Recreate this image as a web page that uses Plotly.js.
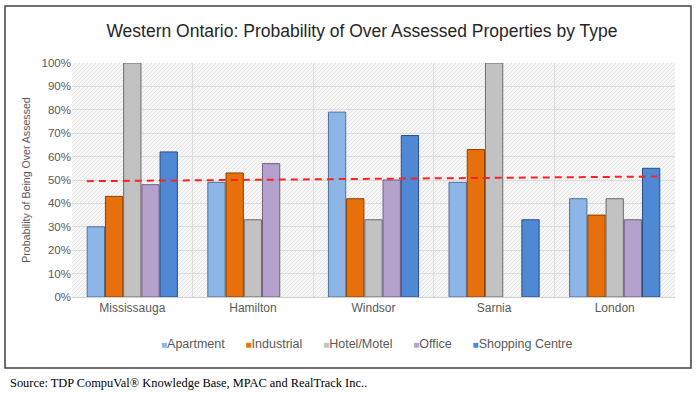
<!DOCTYPE html>
<html>
<head>
<meta charset="utf-8">
<script src="https://cdn.plot.ly/plotly-3.0.1.min.js"></script>
<style>html,body{margin:0;padding:0;background:#fff;}#chart{width:700px;height:393px;}</style>
</head>
<body>
<div id="chart"></div>
<script>
const cities = ["Mississauga", "Hamilton", "Windsor", "Sarnia", "London"];
const seriesNames = ["Apartment", "Industrial", "Hotel/Motel", "Office", "Shopping Centre"];
const apartment = [30, 49, 79, 49, 42];
const industrial = [43, 53, 42, 63, 35];
const hotelMotel = [100, 33, 33, 100, 42];
const office = [48, 57, 50, null, 33];
const shoppingCentre = [62, null, 69, 33, 55];
const trendValues = [49.5, 51.5];
const yTicks = [0, 10, 20, 30, 40, 50, 60, 70, 80, 90, 100];

const fills = ['#8DB6E8', '#E8700C', '#C2C2C2', '#B4A2CC', '#4F88D4'];
const outlines = ['#4F6F96', '#8A3F00', '#6B6B6B', '#6E5F80', '#2A4F80'];
const seriesValues = [apartment, industrial, hotelMotel, office, shoppingCentre];

const positions = cities.map((c, i) => i);
const bargap = 0.245;
const half = (1 - bargap) / 2;

const data = seriesNames.map((name, k) => ({
  type: 'bar', name: name, x: positions, y: seriesValues[k],
  marker: {color: fills[k], line: {color: outlines[k], width: 1}},
  hoverinfo: 'skip', showlegend: false
}));
data.push({
  type: 'scatter', mode: 'lines', showlegend: false,
  x: [positions[0] - half, positions[positions.length - 1] + half],
  y: trendValues,
  line: {color: '#FF2020', width: 2, dash: '7px,5px'},
  hoverinfo: 'skip'
});

const legendText = seriesNames.map((name, k) =>
  "<span style='color:" + fills[k] + ";font-size:10px'>■</span>" + name
).join('&nbsp;&nbsp;&nbsp;&nbsp;&nbsp;&nbsp;');

const hatch = "data:image/svg+xml;utf8," + encodeURIComponent(
  "<svg xmlns='http://www.w3.org/2000/svg' width='603' height='234'>" +
  "<defs><pattern id='p' width='4' height='4' patternUnits='userSpaceOnUse'>" +
  "<rect width='4' height='4' fill='#f6f6f6'/>" +
  "<path d='M-1,1 l2,-2 M0,4 l4,-4 M3,5 l2,-2' stroke='#e4e4e4' stroke-width='1'/>" +
  "</pattern></defs><rect width='603' height='234' fill='url(#p)'/></svg>");

const layout = {
  width: 700, height: 393,
  margin: {l: 72, r: 25, t: 63, b: 96},
  paper_bgcolor: '#ffffff',
  plot_bgcolor: '#f3f3f3',
  showlegend: false,
  font: {family: 'Liberation Sans, Arial, sans-serif', color: '#595959', size: 12},
  title: {
    text: 'Western Ontario: Probability of Over Assessed Properties by Type',
    font: {family: 'Liberation Sans, Arial, sans-serif', size: 17.5, color: '#262626'},
    x: 0.517, xanchor: 'center', y: 0.921, yanchor: 'middle'
  },
  barmode: 'group',
  bargap: bargap,
  bargroupgap: 0.05,
  xaxis: {
    range: [-0.5, cities.length - 0.5],
    tickmode: 'array', tickvals: positions, ticktext: cities,
    showgrid: false, zeroline: false,
    showline: true, linecolor: '#d0d0d0', linewidth: 1,
    ticks: '', ticklen: 0,
    tickfont: {size: 12, color: '#595959'},
    minor: {tickmode: 'linear', tick0: 0.5, dtick: 1, showgrid: true, gridcolor: '#dcdcdc', gridwidth: 1, ticks: ''}
  },
  yaxis: {
    range: [0, 100],
    tickmode: 'array', tickvals: yTicks, ticktext: yTicks.map(v => v + '%'),
    showgrid: true, gridcolor: '#dcdcdc', gridwidth: 1,
    zeroline: false, ticks: '',
    tickfont: {size: 11.5, color: '#595959'},
    title: {text: 'Probability of Being Over Assessed', font: {size: 10.6, color: '#595959'}, standoff: 8}
  },
  images: [{
    source: hatch, xref: 'paper', yref: 'paper', x: 0, y: 1,
    sizex: 1, sizey: 1, xanchor: 'left', yanchor: 'top',
    sizing: 'stretch', layer: 'below'
  }],
  shapes: [{
    type: 'rect', xref: 'paper', yref: 'paper',
    x0: -0.1111, x1: 1.0265, y0: -0.3034, y1: 1.2436,
    line: {color: '#404040', width: 1.5}, fillcolor: 'rgba(0,0,0,0)', layer: 'below'
  }],
  annotations: [{
    text: legendText,
    xref: 'paper', yref: 'paper', x: 0.489, y: -0.2,
    xanchor: 'center', yanchor: 'middle', showarrow: false,
    font: {size: 12.5, color: '#595959'}
  }, {
    text: 'Source: TDP CompuVal® Knowledge Base, MPAC and RealTrack Inc..',
    xref: 'paper', yref: 'paper', x: -0.106, y: -0.3675,
    xanchor: 'left', yanchor: 'middle', showarrow: false,
    font: {family: 'Liberation Serif, Times New Roman, serif', size: 12.4, color: '#000000'}
  }]
};

Plotly.newPlot('chart', data, layout, {displayModeBar: false, staticPlot: true});
</script>
</body>
</html>
